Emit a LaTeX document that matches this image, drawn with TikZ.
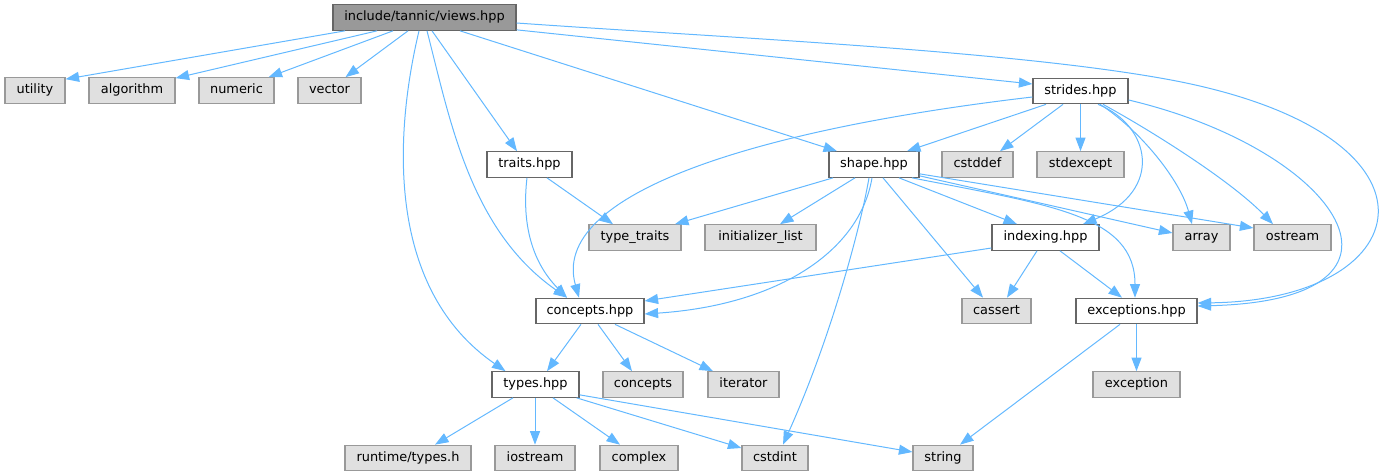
\documentclass[tikz,border=0pt]{standalone}
\usepackage{fontspec}
\setmainfont{DejaVu Sans}
\usetikzlibrary{arrows.meta}
\definecolor{edgec}{HTML}{63B8FF}
\definecolor{srcfill}{HTML}{999999}
\definecolor{dkborder}{HTML}{666666}
\definecolor{sysfill}{HTML}{E0E0E0}
\definecolor{sysborder}{HTML}{999999}
\tikzset{
  boxbase/.style={draw, line width=1.2pt, minimum height=25.5pt, inner sep=0pt,
    font=\fontsize{12.9}{15}\selectfont, text height=9.4pt, text depth=2.6pt, anchor=center},
  srcbox/.style={boxbase, fill=srcfill, draw=dkborder},
  localbox/.style={boxbase, fill=white, draw=dkborder},
  sysbox/.style={boxbase, fill=sysfill, draw=sysborder},
  dep/.style={draw=edgec, line width=1pt, -{Triangle[length=13.5pt,width=10pt]}}
}
\begin{document}
\begin{tikzpicture}[x=1pt,y=-1pt]
\useasboundingbox (0,0) rectangle (1380,476);
% row 0
\node[srcbox, minimum width=183pt] (views) at (424.5,17.5) {include/tannic/views.hpp};
% row 1
\node[sysbox, minimum width=60pt] (utility) at (35,90.5) {utility};
\node[sysbox, minimum width=86pt] (algorithm) at (132,90.5) {algorithm};
\node[sysbox, minimum width=75pt] (numeric) at (236.5,90.5) {numeric};
\node[sysbox, minimum width=63pt] (vector) at (329.5,90.5) {vector};
\node[localbox, minimum width=95pt] (strides) at (1080.5,91) {strides.hpp};
% row 2
\node[localbox, minimum width=85pt] (traits) at (529.5,164.5) {traits.hpp};
\node[localbox, minimum width=90pt] (shape) at (874,164.5) {shape.hpp};
\node[sysbox, minimum width=71pt] (cstddef) at (977.5,164.5) {cstddef};
\node[sysbox, minimum width=87pt] (stdexcept) at (1080.5,164.5) {stdexcept};
% row 3
\node[sysbox, minimum width=92pt] (typetraits) at (635,237.5) {type\_traits};
\node[sysbox, minimum width=111pt] (initlist) at (760.5,237.5) {initializer\_list};
\node[localbox, minimum width=107pt] (indexing) at (1045.5,237.5) {indexing.hpp};
\node[sysbox, minimum width=57pt] (array) at (1201.5,237.5) {array};
\node[sysbox, minimum width=77pt] (ostream) at (1292.5,237.5) {ostream};
% row 4
\node[localbox, minimum width=108pt] (concepts) at (590,311) {concepts.hpp};
\node[sysbox, minimum width=69pt] (cassert) at (996.5,311) {cassert};
\node[localbox, minimum width=121pt] (exceptions) at (1136.5,311) {exceptions.hpp};
% row 5
\node[localbox, minimum width=87pt] (types) at (535.5,384.5) {types.hpp};
\node[sysbox, minimum width=80pt] (conceptsS) at (643,384.5) {concepts};
\node[sysbox, minimum width=71pt] (iterator) at (743.5,384.5) {iterator};
\node[sysbox, minimum width=87pt] (exception) at (1136.5,384.5) {exception};
% row 6
\node[sysbox, minimum width=126pt] (runtime) at (408,458) {runtime/types.h};
\node[sysbox, minimum width=80pt] (iostream) at (535,458) {iostream};
\node[sysbox, minimum width=78pt] (complex) at (639,458) {complex};
\node[sysbox, minimum width=66pt] (cstdint) at (775,458) {cstdint};
\node[sysbox, minimum width=60pt] (string) at (943,458) {string};

% views edges
\draw[dep] ([xshift=-79.5pt]views.south) -- ([yshift=-2pt]utility.north east);
\draw[dep] ([xshift=-47.5pt]views.south) -- ([yshift=-1pt]algorithm.north east);
\draw[dep] ([xshift=-31.5pt]views.south) -- ([xshift=-6pt]numeric.north east);
\draw[dep] ([xshift=-16.5pt]views.south) -- ([xshift=16pt]vector.north);
\draw[dep] ([xshift=-5.5pt]views.south) .. controls (393,140) and (388,290) .. ([xshift=-30pt]types.north);
\draw[dep] ([xshift=2.5pt]views.south) .. controls (450,120) and (470,230) .. ([xshift=-23pt]concepts.north);
\draw[dep] ([xshift=7.5pt]views.south) -- ([xshift=-12.5pt]traits.north);
\draw[dep] ([xshift=35.5pt]views.south) -- ([xshift=-37pt]shape.north);
\draw[dep] ([yshift=1pt]views.south east) -- ([yshift=7pt]strides.west);
\draw[dep] ([yshift=-5.5pt]views.east) .. controls (730,38) and (1000,50) .. (1160,78)
  .. controls (1460,130) and (1425,300) .. ([yshift=8pt]exceptions.east);
% strides edges
\draw[dep] ([xshift=-34.5pt]strides.south) -- ([xshift=33pt]shape.north);
\draw[dep] ([yshift=-6pt]strides.west) .. controls (750,130) and (550,195) .. ([xshift=-11pt]concepts.north);
\draw[dep] ([xshift=-17.5pt]strides.south) -- ([xshift=22.5pt]cstddef.north);
\draw[dep] (strides.south) -- (stdexcept.north);
\draw[dep] ([xshift=17.5pt]strides.south) .. controls (1150,125) and (1165,190) .. ([xshift=37.5pt]indexing.north);
\draw[dep] ([xshift=19.5pt]strides.south) .. controls (1140,130) and (1180,180) .. ([xshift=-9.5pt]array.north);
\draw[dep] ([xshift=22.5pt]strides.south) .. controls (1150,130) and (1230,180) .. ([xshift=-19.5pt]ostream.north);
\draw[dep] ([yshift=-9pt]strides.east) .. controls (1340,150) and (1440,300) .. ([yshift=5pt]exceptions.east);
% shape edges
\draw[dep] ([xshift=-41pt]shape.south) -- ([xshift=40pt]typetraits.north);
\draw[dep] ([xshift=-19pt]shape.south) -- ([xshift=19.5pt]initlist.north);
\draw[dep] ([xshift=-2pt]shape.south) .. controls (860,250) and (780,305) .. ([yshift=-3pt]concepts.east);
\draw[dep] ([xshift=-5pt]shape.south) .. controls (860,230) and (830,340) .. ([xshift=8pt]cstdint.north);
\draw[dep] ([xshift=9pt]shape.south) -- ([xshift=-13.5pt]cassert.north);
\draw[dep] ([xshift=25pt]shape.south) -- ([xshift=-28.5pt]indexing.north);
\draw[dep] ([xshift=38pt]shape.south) .. controls (1050,205) and (1135,215) .. ([xshift=-1.5pt]exceptions.north);
\draw[dep] ([yshift=2pt]shape.south east) -- ([yshift=4.5pt]array.west);
\draw[dep] ([yshift=4pt]shape.south east) -- ([yshift=9.5pt]ostream.west);
% indexing edges
\draw[dep] ([yshift=-10.5pt]indexing.west) -- ([yshift=10pt]concepts.east);
\draw[dep] ([xshift=-8.5pt]indexing.south) -- ([xshift=10.5pt]cassert.north);
\draw[dep] ([xshift=14.5pt]indexing.south) -- ([xshift=-14.5pt]exceptions.north);
% traits edges
\draw[dep] ([xshift=17.5pt]traits.south) -- ([xshift=-22pt]typetraits.north);
\draw[dep] ([xshift=-2.5pt]traits.south) .. controls (522,220) and (530,260) .. ([xshift=-23pt]concepts.north);
% concepts edges
\draw[dep] ([xshift=-9pt]concepts.south) -- ([xshift=11.5pt]types.north);
\draw[dep] ([xshift=8pt]concepts.south) -- ([xshift=-11pt]conceptsS.north);
\draw[dep] ([xshift=25pt]concepts.south) -- ([xshift=-30.5pt]iterator.north);
% types edges
\draw[dep] ([xshift=-22.5pt]types.south) -- ([xshift=27pt]runtime.north);
\draw[dep] ([xshift=-0.5pt]types.south) -- (iostream.north);
\draw[dep] ([xshift=17.5pt]types.south) -- ([xshift=-19pt]complex.north);
\draw[dep] ([xshift=-3pt]types.south east) -- ([yshift=10pt]cstdint.west);
\draw[dep] ([yshift=3pt]types.south east) -- ([yshift=6pt]string.west);
% exceptions edges
\draw[dep] ([xshift=-16.5pt]exceptions.south) -- ([xshift=17pt]string.north);
\draw[dep] (exceptions.south) -- (exception.north);
\end{tikzpicture}
\end{document}
